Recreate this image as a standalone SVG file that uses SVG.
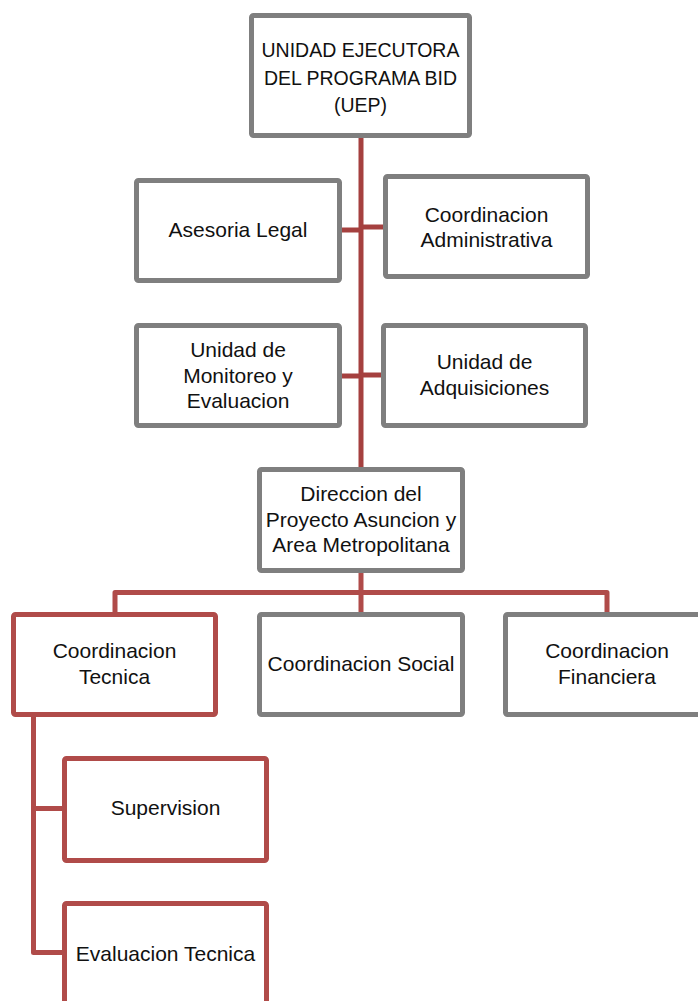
<svg xmlns="http://www.w3.org/2000/svg" width="698" height="1001" viewBox="0 0 698 1001">
<style>
.box{fill:#fff;stroke:#7f7f7f;stroke-width:5;stroke-linejoin:round}
.rbox{fill:#fff;stroke:#b04b49;stroke-width:5;stroke-linejoin:round}
.con{fill:none;stroke:#a5403f;stroke-width:5;stroke-linejoin:round}
.con2{fill:none;stroke:#b04b49;stroke-width:5;stroke-linejoin:round}
text{font-family:"Liberation Sans",Arial,sans-serif;font-size:21px;fill:#111;text-anchor:middle}
.up{font-size:19.5px}
</style>
<rect width="698" height="1001" fill="#fff"/>
<g id="connectors">
<path class="con" d="M361,136 V470"/>
<path class="con" d="M340,230 H361"/>
<path class="con" d="M361,227 H385"/>
<path class="con" d="M340,376 H361"/>
<path class="con" d="M361,375 H383"/>
<path class="con2" d="M361,570 V614"/>
<path class="con2" d="M115,614 V592.5 H607 V614"/>
<path class="con2" d="M33.5,715 V952.5 H64"/>
<path class="con2" d="M33.5,808.5 H64"/>
</g>
<g id="uep">
<rect class="box" x="251.5" y="15.5" width="218" height="120" rx="2"/>
<text class="up" x="360.5" y="57">UNIDAD EJECUTORA</text>
<text class="up" x="360.5" y="84.5">DEL PROGRAMA BID</text>
<text class="up" x="360.5" y="112">(UEP)</text>
</g>
<g id="asesoria">
<rect class="box" x="136.5" y="180.5" width="203" height="100" rx="2"/>
<text x="238" y="237">Asesoria Legal</text>
</g>
<g id="coord-admin">
<rect class="box" x="385.5" y="176.5" width="202" height="100" rx="2"/>
<text x="486.5" y="222">Coordinacion</text>
<text x="486.5" y="247">Administrativa</text>
</g>
<g id="monitoreo">
<rect class="box" x="136.5" y="325.5" width="203" height="100" rx="2"/>
<text x="238" y="357">Unidad de</text>
<text x="238" y="383">Monitoreo y</text>
<text x="238" y="408">Evaluacion</text>
</g>
<g id="adquisiciones">
<rect class="box" x="383.5" y="325.5" width="202" height="100" rx="2"/>
<text x="484.5" y="369">Unidad de</text>
<text x="484.5" y="395">Adquisiciones</text>
</g>
<g id="direccion">
<rect class="box" x="259.5" y="469.5" width="203" height="101" rx="2"/>
<text x="361" y="501">Direccion del</text>
<text x="361" y="526.5">Proyecto Asuncion y</text>
<text x="361" y="552">Area Metropolitana</text>
</g>
<g id="coord-tecnica">
<rect class="rbox" x="13.5" y="614.5" width="202" height="100" rx="2"/>
<text x="114.5" y="658">Coordinacion</text>
<text x="114.5" y="684">Tecnica</text>
</g>
<g id="coord-social">
<rect class="box" x="259.5" y="614.5" width="203" height="100" rx="2"/>
<text x="361" y="671">Coordinacion Social</text>
</g>
<g id="coord-financiera">
<rect class="box" x="505.5" y="614.5" width="204" height="100" rx="2"/>
<text x="607" y="658">Coordinacion</text>
<text x="607" y="684">Financiera</text>
</g>
<g id="supervision">
<rect class="rbox" x="64.5" y="758.5" width="202" height="102" rx="2"/>
<text x="165.5" y="815">Supervision</text>
</g>
<g id="evaluacion-tecnica">
<rect class="rbox" x="64.5" y="903.5" width="202" height="120" rx="2"/>
<text x="165.5" y="961">Evaluacion Tecnica</text>
</g>
</svg>
